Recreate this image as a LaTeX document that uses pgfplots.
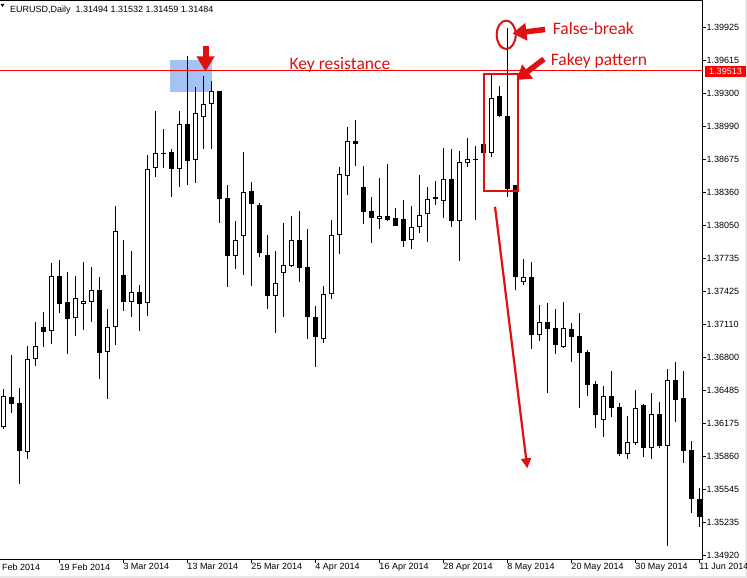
\documentclass[border=0pt]{standalone}
\usepackage{fontspec}
\setmainfont{Liberation Sans}
\newfontfamily\annfont{Carlito}
\usepackage{pgfplots}
\usepackage{pgfplotstable}
\pgfplotsset{compat=1.18}
\usetikzlibrary{arrows.meta}
\definecolor{annred}{RGB}{222,16,16}
\definecolor{selblue}{RGB}{164,195,242}
\definecolor{mtred}{RGB}{255,0,0}

% bullish (white) candles: bar index, open, high, low, close
\pgfplotstableread{
k O H L C
0 1.36136 1.36496 1.36120 1.36433
3 1.35905 1.36903 1.35839 1.36783
4 1.36780 1.37134 1.36720 1.36903
6 1.37046 1.37693 1.36928 1.37567
9 1.37169 1.37569 1.37004 1.37358
10 1.37307 1.37702 1.37058 1.37333
11 1.37326 1.37655 1.37137 1.37434
13 1.36847 1.37257 1.36407 1.37083
14 1.37083 1.38232 1.36919 1.37993
16 1.37326 1.37806 1.37184 1.37415
18 1.37311 1.38713 1.37193 1.38580
19 1.38590 1.39132 1.38504 1.38732
22 1.38580 1.39132 1.38415 1.39006
24 1.38665 1.39357 1.38453 1.39110
25 1.39073 1.39464 1.38769 1.39196
26 1.39196 1.39416 1.38775 1.39319
29 1.37762 1.38090 1.37639 1.37908
30 1.37951 1.38741 1.37579 1.38362
34 1.37383 1.37809 1.37027 1.37500
35 1.37595 1.38071 1.37184 1.37671
36 1.37667 1.38138 1.37655 1.37908
40 1.36970 1.37475 1.36938 1.37399
41 1.37396 1.38100 1.37354 1.37958
42 1.37955 1.38605 1.37778 1.38536
43 1.38521 1.38981 1.38332 1.38845
47 1.38112 1.38498 1.38015 1.38138
51 1.37908 1.38232 1.37828 1.38031
52 1.38031 1.38526 1.37980 1.38144
53 1.38154 1.38410 1.37894 1.38296
54 1.38296 1.38469 1.38242 1.38315
55 1.38277 1.38782 1.38122 1.38485
57 1.38093 1.38753 1.37714 1.38646
58 1.38637 1.38877 1.38605 1.38675
59 1.38670 1.38801 1.38103 1.38680
61 1.38732 1.39495 1.38699 1.39253
65 1.37510 1.37730 1.37481 1.37557
67 1.37013 1.37295 1.36957 1.37134
70 1.36900 1.37323 1.36890 1.37074
75 1.36208 1.36527 1.36047 1.36433
78 1.35881 1.36246 1.35836 1.35997
79 1.35990 1.36490 1.35966 1.36319
81 1.35943 1.36464 1.35836 1.36262
83 1.35962 1.36691 1.35015 1.36584
}\bull

% bearish (black) candles
\pgfplotstableread{
k O H L C
1 1.36423 1.36818 1.36275 1.36360
2 1.36366 1.36509 1.35602 1.35915
5 1.37086 1.37228 1.36900 1.37042
7 1.37569 1.37721 1.37222 1.37307
8 1.37323 1.37607 1.36833 1.37165
12 1.37437 1.37560 1.36597 1.36843
15 1.37579 1.37910 1.37241 1.37326
17 1.37415 1.37481 1.37051 1.37307
20 1.38737 1.38959 1.38595 1.38722
21 1.38741 1.38769 1.38315 1.38580
23 1.39006 1.39653 1.38434 1.38661
27 1.39322 1.39322 1.38074 1.38302
28 1.38305 1.38431 1.37468 1.37762
31 1.38374 1.38460 1.37475 1.38249
32 1.38242 1.38258 1.37747 1.37790
33 1.37768 1.37958 1.37260 1.37383
37 1.37908 1.38185 1.37515 1.37648
38 1.37655 1.38012 1.36970 1.37178
39 1.37178 1.37285 1.36710 1.36994
44 1.38845 1.39047 1.38611 1.38823
45 1.38410 1.38611 1.38062 1.38178
46 1.38182 1.38315 1.37885 1.38122
48 1.38135 1.38630 1.38093 1.38100
49 1.38116 1.38213 1.38040 1.38046
50 1.38109 1.38289 1.37847 1.37904
56 1.38485 1.38769 1.38036 1.38093
60 1.38820 1.38845 1.38627 1.38732
62 1.39272 1.39369 1.39080 1.39082
63 1.39085 1.39916 1.38315 1.38393
64 1.38431 1.38431 1.37432 1.37557
66 1.37557 1.37702 1.36875 1.37013
68 1.37134 1.37314 1.36464 1.37065
69 1.37074 1.37257 1.36833 1.36919
71 1.37065 1.37127 1.36758 1.36994
72 1.37001 1.37222 1.36322 1.36843
73 1.36850 1.36868 1.36436 1.36540
74 1.36546 1.36578 1.36132 1.36256
76 1.36433 1.36672 1.36234 1.36322
77 1.36331 1.36364 1.35867 1.35883
80 1.36350 1.36357 1.35858 1.35943
82 1.36262 1.36376 1.35943 1.35959
84 1.36584 1.36755 1.36186 1.36395
85 1.36417 1.36670 1.35801 1.35912
86 1.35921 1.36009 1.35322 1.35460
87 1.35460 1.35561 1.35195 1.35289
}\bear

\pgfplotsset{
  candle/.style={only marks, mark=text, text mark={}, forget plot,
    error bars/.cd, y dir=plus, y explicit, error mark=none,
    error bar style={#1, line cap=butt}},
}

\begin{document}
\begin{tikzpicture}[x=1pt,y=1pt]
\useasboundingbox (0,0) rectangle (747,578);
\clip (0,0) rectangle (747,578);
\fill[white] (0,0) rectangle (747,578);
\fill[black!9] (745,0) rectangle (747,578);
\fill[black!9] (0,0) rectangle (747,2);
% highlighted zone behind the candles
\fill[selblue] (170,486.3) rectangle (211.5,518);
\begin{axis}[
  at={(-1pt,18pt)}, anchor=south west,
  scale only axis, width=704pt, height=559.5pt,
  xmin=-0.5375, xmax=87.4625,
  ymin=1.348793, ymax=1.401788,
  axis line style={black, line width=1pt},
  tick style={black, line width=1pt},
  tick align=outside, major tick length=3.5pt,
  xtick pos=left, ytick pos=right, yticklabel pos=right,
  xtick={7,15,23,31,39,47,55,63,71,79,87},
  xticklabels={19 Feb 2014,3 Mar 2014,13 Mar 2014,25 Mar 2014,4 Apr 2014,16 Apr 2014,28 Apr 2014,8 May 2014,20 May 2014,30 May 2014,11 Jun 2014},
  ytick={1.34920,1.35235,1.35545,1.35860,1.36175,1.36485,1.36800,1.37110,1.37425,1.37735,1.38050,1.38360,1.38675,1.38990,1.39300,1.39615,1.39925},
  yticklabels={1.34920,1.35235,1.35545,1.35860,1.36175,1.36485,1.36800,1.37110,1.37425,1.37735,1.38050,1.38360,1.38675,1.38990,1.39300,1.39615,1.39925},
  tick label style={font=\fontsize{9}{10}\selectfont, black},
  xticklabel style={anchor=north west, inner sep=0pt, xshift=0pt},
  yticklabel style={anchor=west, inner sep=0pt},
]
% wicks
\addplot[candle={black, line width=1pt}]
  table[x=k, y=L, y error plus expr={\thisrow{H}-\thisrow{L}}] {\bull};
\addplot[candle={black, line width=1pt}]
  table[x=k, y=L, y error plus expr={\thisrow{H}-\thisrow{L}}] {\bear};
% black bodies
\addplot[candle={black, line width=5pt}]
  table[x=k, y=C, y error plus expr={\thisrow{O}-\thisrow{C}}] {\bear};
% white bodies: outline then inside
\addplot[candle={black, line width=5pt}]
  table[x=k, y=O, y error plus expr={\thisrow{C}-\thisrow{O}}] {\bull};
\addplot[candle={white, line width=3pt}]
  table[x=k, y expr={\thisrow{O}+0.0000947}, y error plus expr={max(\thisrow{C}-\thisrow{O}-0.00019,0)}] {\bull};
% key resistance line
\addplot[mtred, line width=1pt, mark=none, forget plot] coordinates {(-0.5375,1.39513) (87.4625,1.39513)};
\end{axis}
% first, partly visible date label
\node[anchor=north west, inner sep=0pt, font=\fontsize{9}{10}\selectfont] at (2,14.2) {Feb 2014};
% price tag
\node[fill=mtred, text=white, inner sep=0pt, minimum width=41pt, minimum height=11pt,
  font=\fontsize{9}{10}\selectfont] at (725.5,506.5) {1.39513};
% header
\fill[black] (0.5,574) -- (4.5,574) -- (2.5,571) -- cycle;
\node[anchor=base west, inner sep=0pt, font=\fontsize{9}{10}\selectfont] at (10,565.5)
  {EURUSD,Daily\ \ 1.31494 1.31532 1.31459 1.31484};
% annotations
\draw[annred, line width=6pt, -{Triangle[length=15pt,width=17pt]}] (205.5,532) -- (205.5,506.5);
\draw[annred, line width=2.3pt] (484.3,387.3) rectangle (518.3,504);
\draw[annred, line width=2pt] (506.2,543.2) ellipse [x radius=9.5pt, y radius=14.2pt];
\draw[annred, line width=5.5pt, -{Triangle[length=14pt,width=17pt]}] (545,548.5) -- (512.5,544.5);
\draw[annred, line width=5.5pt, -{Triangle[length=14pt,width=17pt]}] (544,519) -- (516.5,498);
\draw[annred, line width=2.2pt, -{Triangle[length=10pt,width=10pt]}] (495,371.3) -- (527.3,109.7);
\node[anchor=base west, inner sep=0pt, text=annred, font=\annfont\fontsize{17.5}{20}\selectfont] at (552.7,543.7) {False-break};
\node[anchor=base west, inner sep=0pt, text=annred, font=\annfont\fontsize{17.5}{20}\selectfont] at (550.7,512.3) {Fakey pattern};
\node[anchor=base west, inner sep=0pt, text=annred, font=\annfont\fontsize{17.5}{20}\selectfont] at (289.3,508) {Key resistance};
\end{tikzpicture}
\end{document}
